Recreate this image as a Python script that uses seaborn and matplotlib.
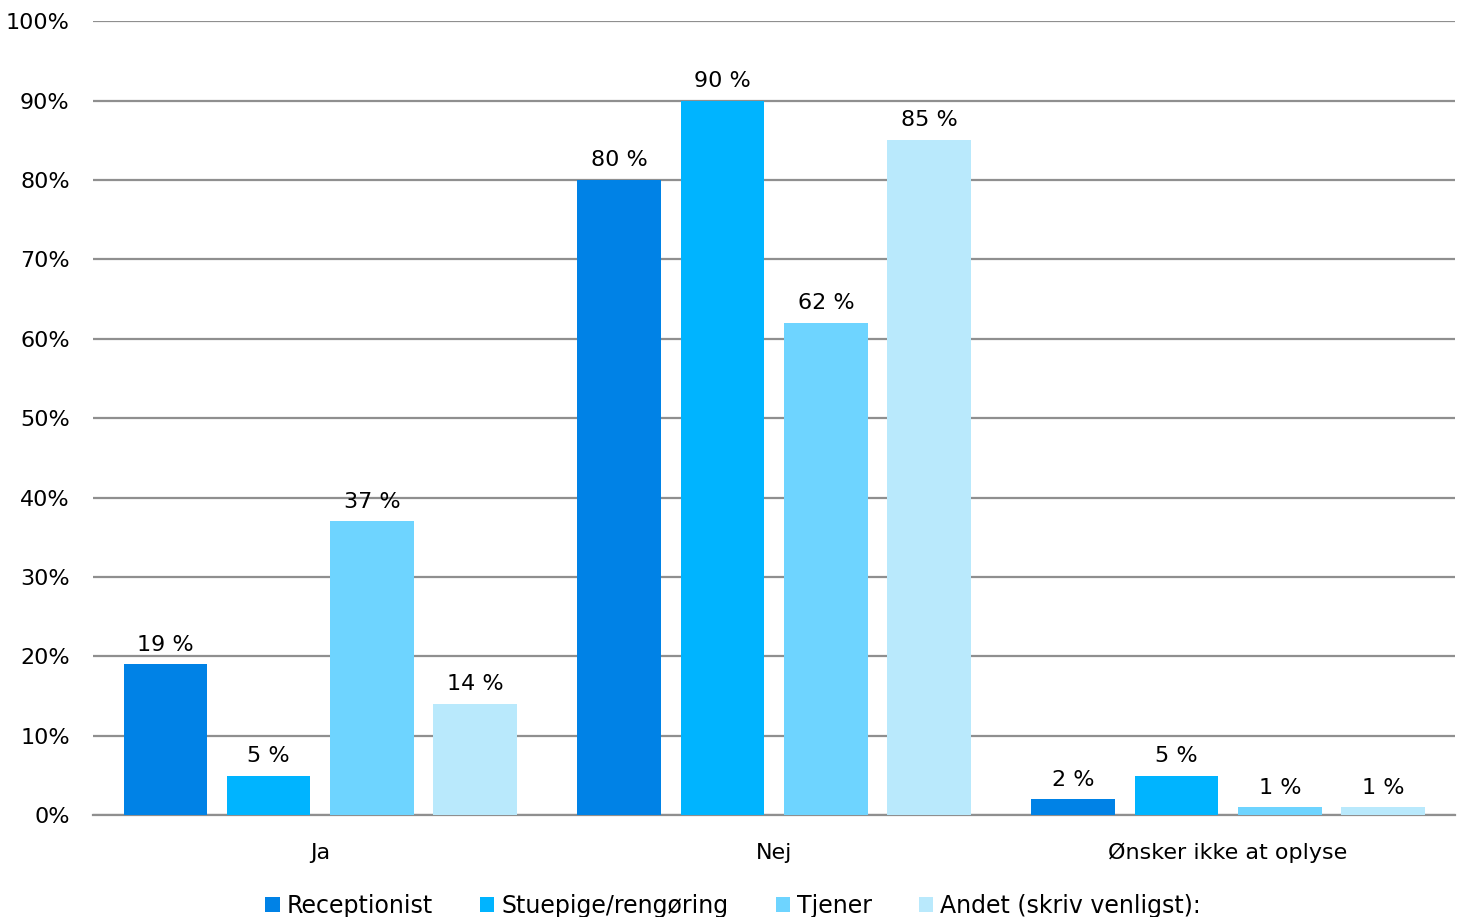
import matplotlib.pyplot as plt
import seaborn as sns
import pandas as pd
from matplotlib.ticker import PercentFormatter

# data
answers = ["Ja", "Nej", "Ønsker ikke at oplyse"]
jobs = ["Receptionist", "Stuepige/rengøring", "Tjener", "Andet (skriv venligst):"]
receptionist = [19, 80, 2]
stuepige = [5, 90, 5]
tjener = [37, 62, 1]
andet = [14, 85, 1]

colors = ["#0082E6", "#00B4FF", "#6ED4FF", "#B9E9FC"]

df = pd.DataFrame({
    "svar": answers * 4,
    "job": [j for j in jobs for _ in answers],
    "pct": receptionist + stuepige + tjener + andet,
})

sns.set_style("white")
plt.rcParams['font.family'] = ['DejaVu Sans']
plt.rcParams['text.color'] = 'black'
plt.rcParams['xtick.color'] = 'black'
plt.rcParams['ytick.color'] = 'black'

fig, ax = plt.subplots(figsize=(14.58, 9.17), dpi=100)
fig.subplots_adjust(left=0.064, right=0.998, top=0.977, bottom=0.111)

sns.barplot(data=df, x="svar", y="pct", hue="job", order=answers, hue_order=jobs,
            palette=colors, width=0.91, gap=0.19, saturation=1, linewidth=0,
            ax=ax, zorder=3)

for c in ax.containers:
    ax.bar_label(c, labels=[f"{v:.0f} %" for v in c.datavalues], padding=7,
                 fontsize=16, color="black")

ax.set_ylim(0, 100)
ax.set_xlim(-0.5, 2.5)
ax.set_yticks(range(0, 101, 10))
ax.yaxis.set_major_formatter(PercentFormatter(decimals=0))
ax.yaxis.grid(True, color="#8f8f8f", linewidth=1.6, zorder=0)
ax.set_axisbelow(True)
ax.tick_params(axis="both", length=0, labelsize=16)
ax.tick_params(axis="x", pad=20)
ax.tick_params(axis="y", pad=17)
ax.set_xlabel("")
ax.set_ylabel("")
for s in ["top", "right", "left"]:
    ax.spines[s].set_visible(False)
ax.spines["bottom"].set_color("#8f8f8f")
ax.spines["bottom"].set_linewidth(1.6)

ax.legend(loc="upper center", bbox_to_anchor=(0.47, -0.072), ncol=4, frameon=False,
          fontsize=17, handlelength=0.6, handleheight=0.6, handletextpad=0.3,
          columnspacing=2.0)

plt.savefig("out.png", dpi=100)
